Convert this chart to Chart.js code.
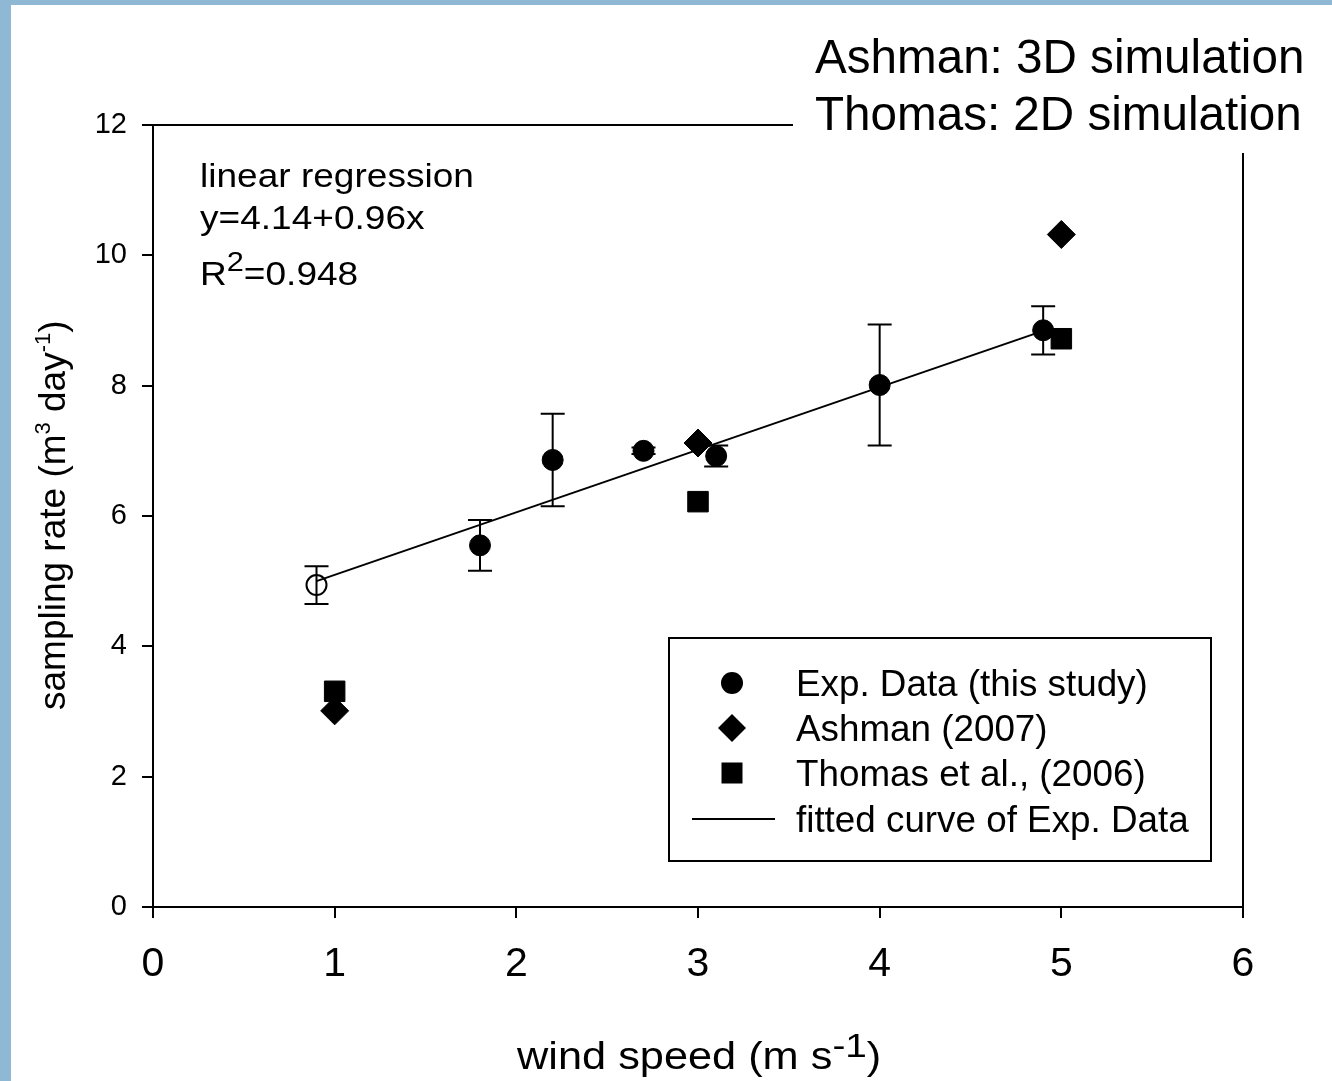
<!DOCTYPE html>
<html>
<head>
<meta charset="utf-8">
<script src="https://cdn.jsdelivr.net/npm/chart.js@4.4.1/dist/chart.umd.min.js"></script>
<style>
  html, body { margin: 0; padding: 0; background: #ffffff; }
  #grafico { display: block; }
</style>
</head>
<body>
<canvas id="grafico" width="1332" height="1081"></canvas>
<script>
/* ============================
   DATOS
   ============================ */
// Datos experimentales (este estudio), con su desviación
const expX = [1.8, 2.2, 2.7, 3.1, 4.0, 4.9];
const expY = [5.55, 6.86, 7.00, 6.92, 8.01, 8.85];
const expErr = [0.39, 0.71, 0.05, 0.16, 0.93, 0.37];

// Punto hueco a 0.9 m/s
const huecoX = [0.9];
const huecoY = [4.94];
const huecoErr = [0.29];

// Ashman (2007) y Thomas et al. (2006)
const ashmanX = [1, 3, 5];
const ashmanY = [3.01, 7.12, 10.32];
const thomasX = [1, 3, 5];
const thomasY = [3.31, 6.22, 8.72];

// Recta ajustada (extremos)
const ajusteX = [0.9, 4.9];
const ajusteY = [5.00, 8.84];

const xTicks = [0, 1, 2, 3, 4, 5, 6];
const yTicks = [0, 2, 4, 6, 8, 10, 12];

const leyenda = ["Exp. Data (this study)", "Ashman (2007)", "Thomas et al., (2006)", "fitted curve of Exp. Data"];
const notaRegresion = ["linear regression", "y=4.14+0.96x", "R", "2", "=0.948"];
const notaArriba = ["Ashman: 3D simulation", "Thomas: 2D simulation"];

const FUENTE = "'Liberation Sans', Arial, sans-serif";

function puntos(xs, ys) {
  return xs.map((x, i) => ({ x: x, y: ys[i] }));
}

/* Texto con trozos (para superíndices) */
function textoPartes(ctx, partes, x, y, opts) {
  ctx.save();
  ctx.translate(x, y);
  if (opts.rot) ctx.rotate(opts.rot);
  ctx.scale(opts.sx || 1, opts.sy || 1);
  ctx.fillStyle = "#000";
  ctx.textBaseline = "alphabetic";
  ctx.textAlign = "left";
  let cx = 0;
  partes.forEach(p => {
    ctx.font = p.size + "px " + FUENTE;
    ctx.fillText(p.t, cx, -(p.sube || 0));
    cx += ctx.measureText(p.t).width;
  });
  ctx.restore();
}

/* ============================
   PLUGIN: barras de error, marco, textos, leyenda
   ============================ */
const extras = {
  id: "extras",
  beforeDraw(chart) {
    const ctx = chart.ctx;
    ctx.save();
    ctx.fillStyle = "#8fb8d4";
    ctx.fillRect(0, 0, 11, chart.height);
    ctx.fillRect(0, 0, chart.width, 5);
    ctx.restore();
  },
  beforeDatasetsDraw(chart) {
    const ctx = chart.ctx;
    const sx = chart.scales.x, sy = chart.scales.y;
    ctx.save();
    ctx.strokeStyle = "#000";
    ctx.lineWidth = 2;
    const barras = (xs, ys, errs) => {
      xs.forEach((xv, i) => {
        const px = sx.getPixelForValue(xv);
        const top = sy.getPixelForValue(ys[i] + errs[i]);
        const bot = sy.getPixelForValue(ys[i] - errs[i]);
        ctx.beginPath();
        ctx.moveTo(px, top); ctx.lineTo(px, bot);
        ctx.moveTo(px - 12, top); ctx.lineTo(px + 12, top);
        ctx.moveTo(px - 12, bot); ctx.lineTo(px + 12, bot);
        ctx.stroke();
      });
    };
    barras(expX, expY, expErr);
    barras(huecoX, huecoY, huecoErr);
    ctx.restore();
  },
  afterDraw(chart) {
    const ctx = chart.ctx;
    const a = chart.chartArea;
    ctx.save();

    // marco superior y derecho
    ctx.strokeStyle = "#000";
    ctx.lineWidth = 2;
    ctx.beginPath();
    ctx.moveTo(a.left, a.top); ctx.lineTo(a.right, a.top);
    ctx.moveTo(a.right, a.top); ctx.lineTo(a.right, a.bottom);
    ctx.stroke();

    // caja blanca con la nota de arriba
    ctx.fillStyle = "#fff";
    ctx.fillRect(793, 5, chart.width - 793, 148);
    textoPartes(ctx, [{ t: notaArriba[0], size: 47.6 }], 815, 73, {});
    textoPartes(ctx, [{ t: notaArriba[1], size: 47.6 }], 815, 130, {});

    // nota de la regresión
    textoPartes(ctx, [{ t: notaRegresion[0], size: 32.5 }], 200, 187, { sx: 1.14 });
    textoPartes(ctx, [{ t: notaRegresion[1], size: 32.5 }], 200, 229, { sx: 1.14 });
    textoPartes(ctx, [
      { t: notaRegresion[2], size: 32.5 },
      { t: notaRegresion[3], size: 27, sube: 14 },
      { t: notaRegresion[4], size: 32.5 }
    ], 200, 285, { sx: 1.14 });

    // títulos de ejes
    textoPartes(ctx, [
      { t: "wind speed (m s", size: 38 },
      { t: "-1", size: 34, sube: 12 },
      { t: ")", size: 38 }
    ], 517, 1069, { sx: 1.14 });
    textoPartes(ctx, [
      { t: "sampling rate (m", size: 37 },
      { t: "3", size: 22, sube: 15 },
      { t: " day", size: 37 },
      { t: "-1", size: 22, sube: 15 },
      { t: ")", size: 37 }
    ], 65, 710, { rot: -Math.PI / 2 });

    // leyenda
    ctx.strokeStyle = "#000";
    ctx.lineWidth = 2;
    ctx.strokeRect(669, 638, 542, 223);
    const filas = [683, 728, 773, 819];
    const mx = 732;
    ctx.fillStyle = "#000";
    // círculo
    ctx.beginPath();
    ctx.arc(mx, filas[0], 11, 0, Math.PI * 2);
    ctx.fill();
    // rombo
    ctx.beginPath();
    ctx.moveTo(mx, filas[1] - 14); ctx.lineTo(mx + 14, filas[1]);
    ctx.lineTo(mx, filas[1] + 14); ctx.lineTo(mx - 14, filas[1]);
    ctx.closePath();
    ctx.fill();
    // cuadrado
    ctx.fillRect(mx - 10.5, filas[2] - 10.5, 21, 21);
    // línea
    ctx.beginPath();
    ctx.moveTo(692, filas[3]); ctx.lineTo(775, filas[3]);
    ctx.stroke();
    leyenda.forEach((t, i) => {
      textoPartes(ctx, [{ t: t, size: 36.8 }], 796, filas[i] + 13, {});
    });

    ctx.restore();
  }
};

/* ============================
   GRÁFICO
   ============================ */
const ejeComun = {
  type: "linear",
  grid: { drawOnChartArea: false, drawTicks: true, tickLength: 11, color: "#000", lineWidth: 2 },
  border: { display: true, color: "#000", width: 2 },
};

new Chart(document.getElementById("grafico"), {
  type: "scatter",
  data: {
    datasets: [
      {
        label: leyenda[0],
        data: puntos(expX, expY),
        pointStyle: "circle",
        pointRadius: 10.5,
        backgroundColor: "#000",
        borderColor: "#000",
        borderWidth: 1
      },
      {
        label: "hueco",
        data: puntos(huecoX, huecoY),
        pointStyle: "circle",
        pointRadius: 10,
        backgroundColor: "rgba(0,0,0,0)",
        borderColor: "#000",
        borderWidth: 2
      },
      {
        label: leyenda[1],
        data: puntos(ashmanX, ashmanY),
        pointStyle: "rectRot",
        pointRadius: 14,
        backgroundColor: "#000",
        borderColor: "#000",
        borderWidth: 1
      },
      {
        label: leyenda[2],
        data: puntos(thomasX, thomasY),
        pointStyle: "rect",
        pointRadius: 14.5,
        backgroundColor: "#000",
        borderColor: "#000",
        borderWidth: 1
      },
      {
        label: leyenda[3],
        data: puntos(ajusteX, ajusteY),
        showLine: true,
        pointRadius: 0,
        borderColor: "#000",
        borderWidth: 2,
        fill: false
      }
    ]
  },
  options: {
    responsive: false,
    animation: false,
    devicePixelRatio: 1,
    events: [],
    layout: { padding: { left: 0, top: 125, right: 89, bottom: 0 } },
    plugins: { legend: { display: false }, tooltip: { enabled: false } },
    scales: {
      x: Object.assign({}, ejeComun, {
        min: 0, max: 6,
        afterFit(s) { s.height = 174; },
        afterBuildTicks(s) { s.ticks = xTicks.map(v => ({ value: v })); },
        ticks: { color: "#000", font: { size: 41, family: FUENTE }, padding: 22, maxRotation: 0, autoSkip: false }
      }),
      y: Object.assign({}, ejeComun, {
        min: 0, max: 12,
        afterFit(s) { s.width = 153; },
        afterBuildTicks(s) { s.ticks = yTicks.map(v => ({ value: v })); },
        ticks: { color: "#000", font: { size: 29, family: FUENTE }, padding: 15, autoSkip: false }
      })
    }
  },
  plugins: [extras]
});
</script>
</body>
</html>
